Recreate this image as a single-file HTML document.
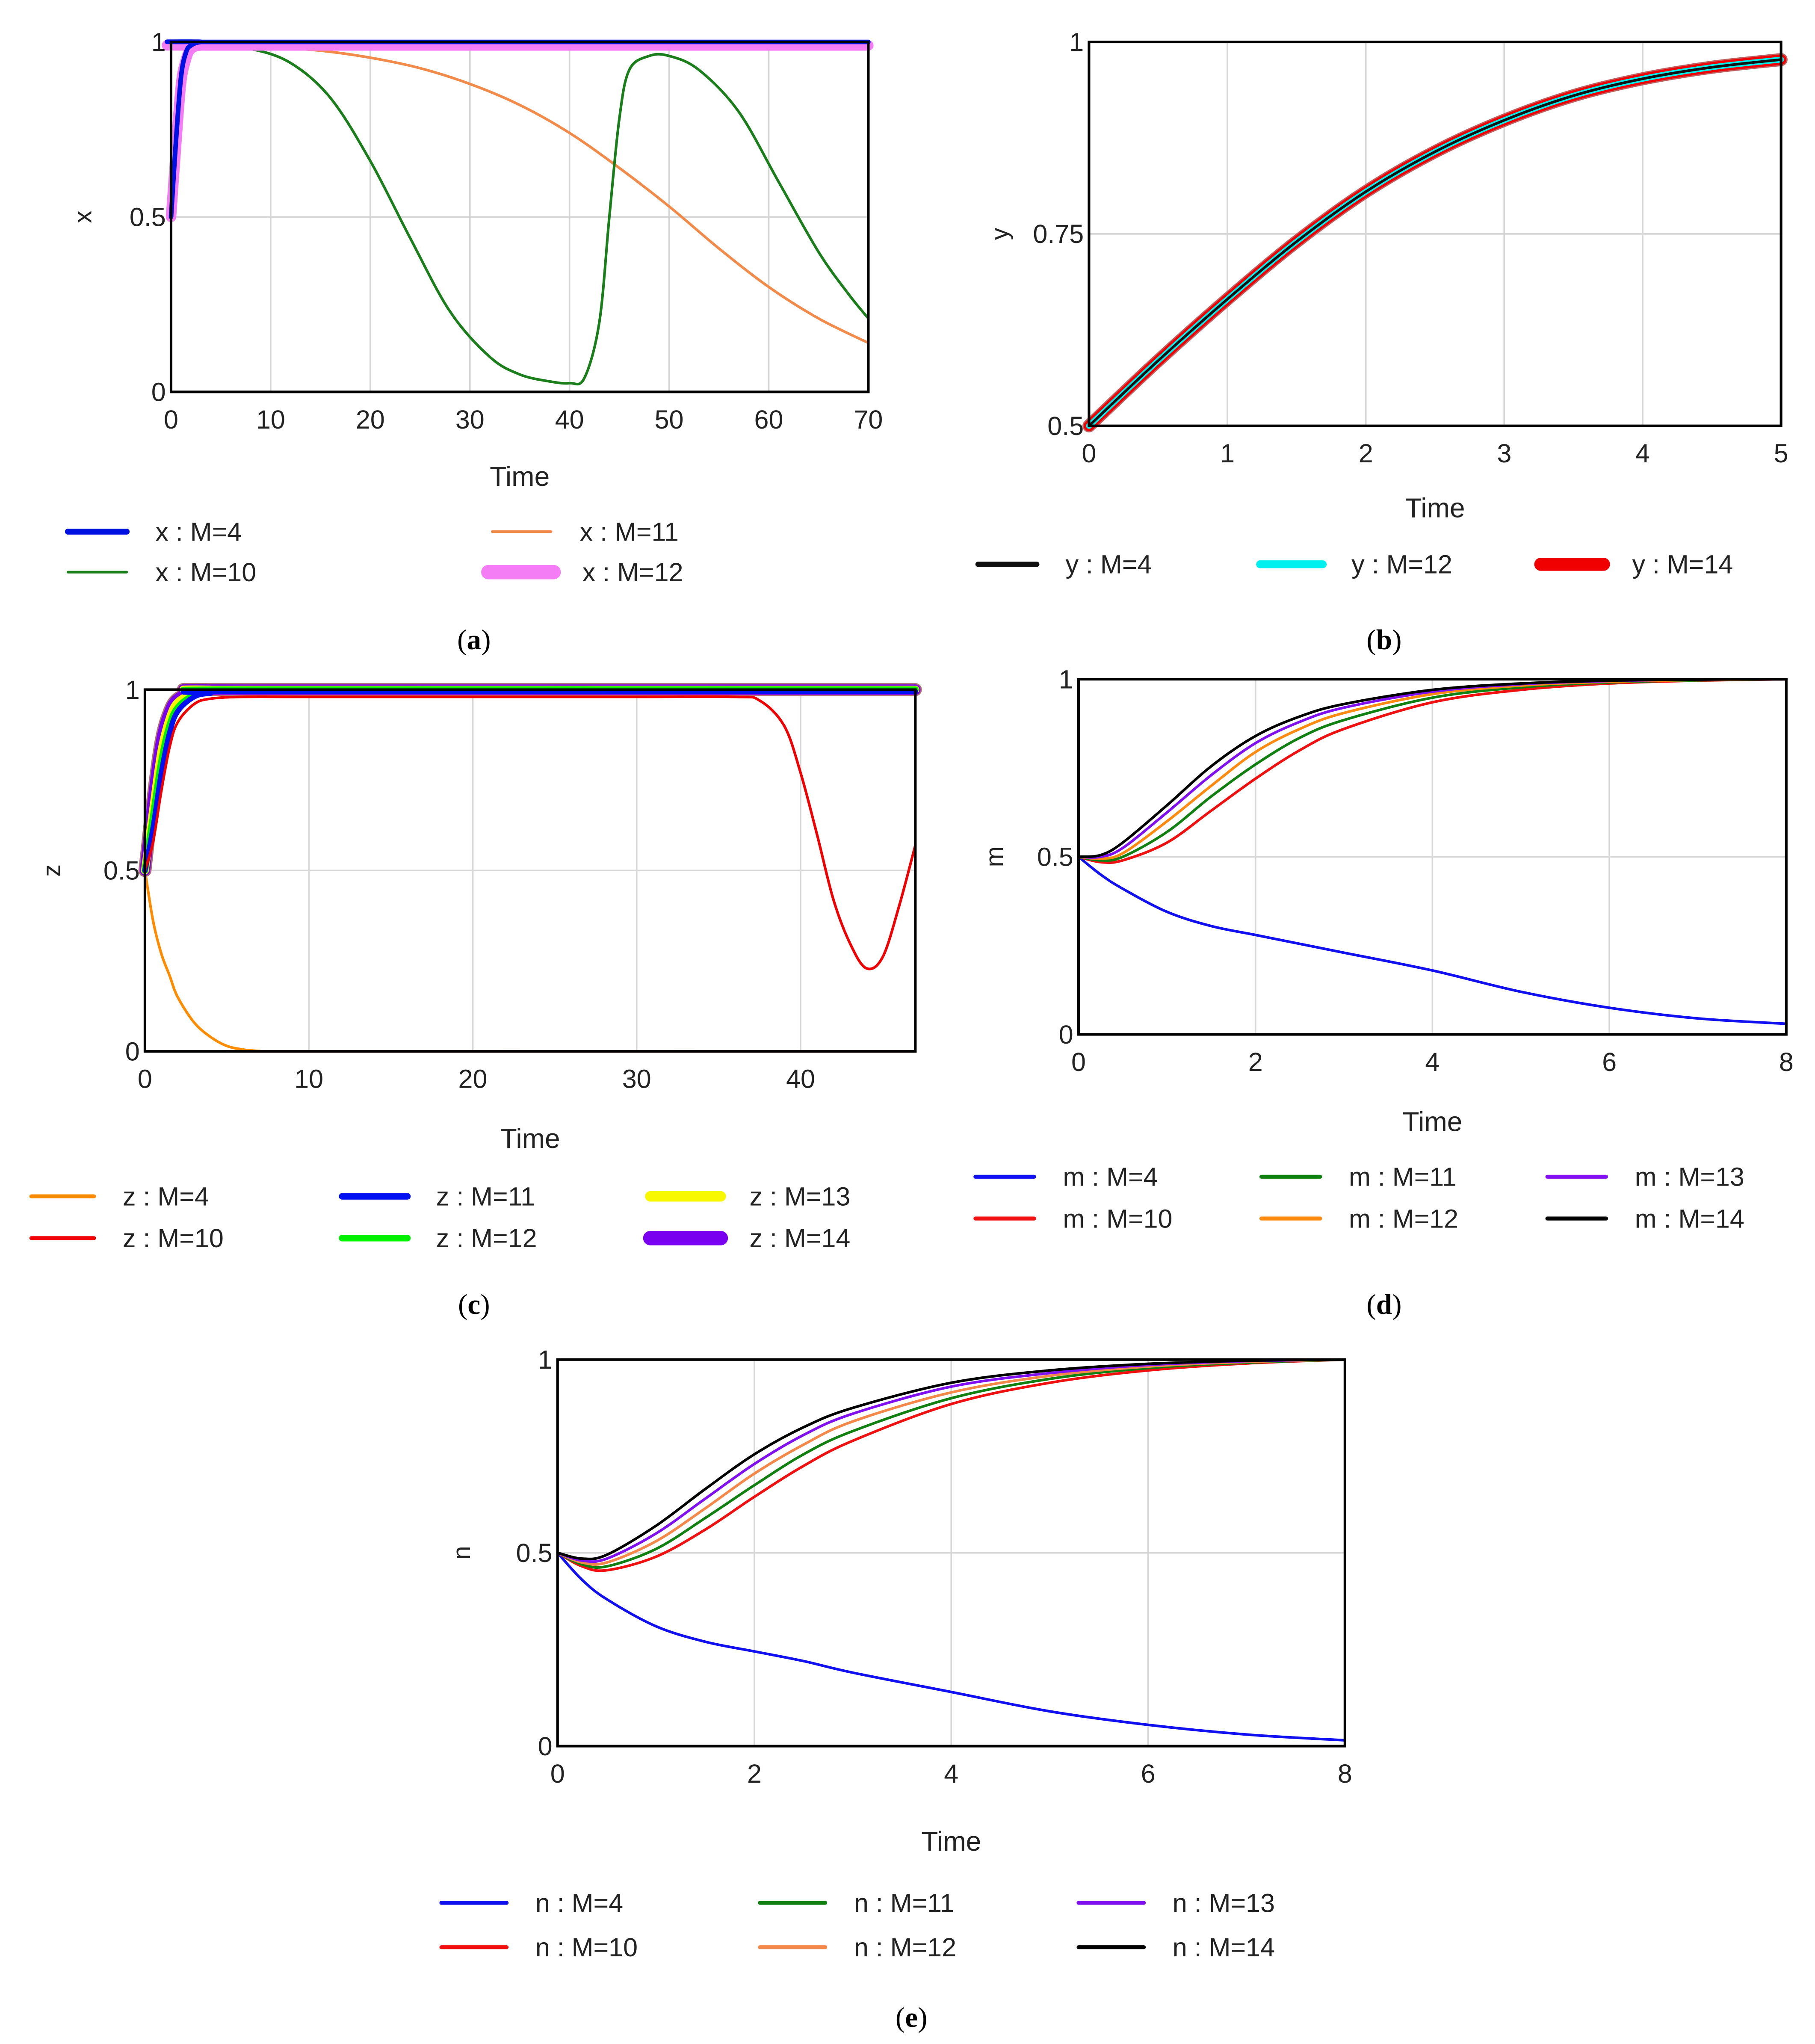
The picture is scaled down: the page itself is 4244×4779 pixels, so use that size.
<!DOCTYPE html>
<html><head><meta charset="utf-8">
<style>
html,body{margin:0;padding:0;background:#fff;}
svg{display:block;}
text{font-family:"Liberation Sans",sans-serif;fill:#222;}
.cap{font-family:"Liberation Serif",serif;font-size:22px;fill:#000;}
</style></head>
<body>
<svg id="fig" width="4244" height="4779" viewBox="0 0 1390 1565" xmlns="http://www.w3.org/2000/svg">
<text class="cap" x="363" y="497" text-anchor="middle">(<tspan font-weight="bold">a</tspan>)</text>
<text class="cap" x="1060" y="497" text-anchor="middle">(<tspan font-weight="bold">b</tspan>)</text>
<text class="cap" x="363" y="1006" text-anchor="middle">(<tspan font-weight="bold">c</tspan>)</text>
<text class="cap" x="1060" y="1006" text-anchor="middle">(<tspan font-weight="bold">d</tspan>)</text>
<text class="cap" x="698" y="1552" text-anchor="middle">(<tspan font-weight="bold">e</tspan>)</text>
</svg>
<script>
// ---- Panel (a) data: x ----
const aX_M4_t = [0,0.5,1,1.5,2,3,5,70];
const aX_M4_v = [0.5,0.72,0.9,0.97,0.99,1,1,1];
const aX_M12_t = [0,0.5,1,1.5,2,3,5,70];
const aX_M12_v = [0.5,0.7,0.88,0.95,0.98,0.99,0.99,0.99];
const aX_M10_t = [0,1,2,4,8,12,16,20,24,28,32,35,38,40,41.5,43,44,45,46,48,50,53,57,61,65,68,70];
const aX_M10_v = [0.5,0.85,0.97,0.99,0.98,0.94,0.84,0.66,0.44,0.23,0.1,0.05,0.03,0.025,0.04,0.2,0.5,0.78,0.92,0.96,0.96,0.92,0.8,0.6,0.4,0.28,0.21];
const aX_M11_t = [0,1,2,5,10,15,20,25,30,35,40,45,50,55,60,65,70];
const aX_M11_v = [0.5,0.85,0.97,0.99,0.985,0.975,0.955,0.925,0.88,0.82,0.74,0.64,0.53,0.41,0.3,0.21,0.14];
// ---- Panel (b) data: y ----
const bT = [0,0.5,1,1.5,2,2.5,3,3.5,4,4.5,5];
const bY_M4 = [0.5,0.585,0.665,0.74,0.805,0.857,0.898,0.93,0.952,0.967,0.977];
const bY_M12 = [0.5,0.585,0.665,0.74,0.805,0.857,0.898,0.93,0.952,0.967,0.977];
const bY_M14 = [0.5,0.585,0.665,0.74,0.805,0.857,0.898,0.93,0.952,0.967,0.977];
// ---- Panel (c) data: z ----
const cZ_M4_t = [0,0.5,1,1.5,2,3,4,5,6,7,8,47];
const cZ_M4_v = [0.5,0.36,0.27,0.21,0.15,0.08,0.04,0.015,0.005,0.001,0,0];
const cZ_M10_t = [0,0.5,1,1.5,2,3,4,6,10,20,30,36,37.5,39,40,41,42,43,44,45,46,47];
const cZ_M10_v = [0.5,0.58,0.72,0.84,0.91,0.96,0.975,0.98,0.98,0.98,0.98,0.98,0.97,0.9,0.77,0.6,0.42,0.3,0.23,0.26,0.4,0.57];
const cZ_M11_t = [0,0.5,1,1.5,2,3,4,6,47];
const cZ_M11_v = [0.5,0.62,0.77,0.88,0.94,0.98,0.99,0.995,0.995];
const cZ_M12_t = [0,0.5,1,1.5,2,3,4,6,47];
const cZ_M12_v = [0.5,0.65,0.8,0.9,0.95,0.985,0.995,1,1];
const cZ_M13_t = [0,0.5,1,1.5,2,3,4,6,47];
const cZ_M13_v = [0.5,0.67,0.83,0.92,0.965,0.99,1,1,1];
const cZ_M14_t = [0,0.5,1,1.5,2,3,4,6,47];
const cZ_M14_v = [0.5,0.7,0.86,0.94,0.975,0.995,1,1,1];
// ---- Panel (d) data: m ----
const dT = [0,0.25,0.5,1,1.5,2,2.5,3,4,5,6,7,8];
const dM_M4 = [0.5,0.45,0.41,0.345,0.305,0.28,0.255,0.23,0.18,0.12,0.075,0.045,0.03];
const dM_M10 = [0.5,0.485,0.49,0.54,0.63,0.72,0.8,0.86,0.935,0.97,0.988,0.996,1];
const dM_M11 = [0.5,0.49,0.5,0.57,0.67,0.76,0.835,0.885,0.948,0.977,0.991,0.997,1];
const dM_M12 = [0.5,0.495,0.51,0.6,0.7,0.795,0.86,0.905,0.958,0.982,0.993,0.998,1];
const dM_M13 = [0.5,0.5,0.525,0.625,0.73,0.82,0.88,0.92,0.965,0.986,0.995,0.999,1];
const dM_M14 = [0.5,0.505,0.54,0.645,0.755,0.84,0.895,0.93,0.97,0.988,0.996,0.999,1];
// ---- Panel (e) data: n ----
const eT = [0,0.25,0.5,1,1.5,2,2.5,3,4,5,6,7,8];
const eN_M4 = [0.5,0.43,0.38,0.31,0.27,0.245,0.22,0.19,0.14,0.09,0.055,0.03,0.015];
const eN_M10 = [0.5,0.465,0.455,0.49,0.56,0.645,0.725,0.79,0.885,0.94,0.972,0.99,1];
const eN_M11 = [0.5,0.47,0.465,0.51,0.59,0.675,0.755,0.815,0.9,0.95,0.978,0.992,1];
const eN_M12 = [0.5,0.475,0.475,0.53,0.615,0.705,0.78,0.84,0.915,0.958,0.982,0.994,1];
const eN_M13 = [0.5,0.48,0.485,0.55,0.64,0.73,0.805,0.86,0.93,0.965,0.986,0.996,1];
const eN_M14 = [0.5,0.485,0.495,0.57,0.665,0.755,0.825,0.875,0.94,0.972,0.989,0.997,1];
// tick labels
const aXTicks = [0,10,20,30,40,50,60,70];
const aYTicks = [0,0.5,1];
const bXTicks = [0,1,2,3,4,5];
const bYTicks = [0.5,0.75,1];
const cXTicks = [0,10,20,30,40];
const cYTicks = [0,0.5,1];
const dXTicks = [0,2,4,6,8];
const dYTicks = [0,0.5,1];
const eXTicks = [0,2,4,6,8];
const eYTicks = [0,0.5,1];

const NS = "http://www.w3.org/2000/svg";
const svg = document.getElementById('fig');
function mk(tag, attrs, parent){
  const e = document.createElementNS(NS, tag);
  for (const k in attrs) e.setAttribute(k, attrs[k]);
  (parent||svg).appendChild(e);
  return e;
}
function fmt(v){ return String(v); }
function curve(pts){
  let d = 'M'+pts[0][0]+','+pts[0][1];
  for (let i=0;i<pts.length-1;i++){
    const p0=pts[i-1]||pts[i], p1=pts[i], p2=pts[i+1], p3=pts[i+2]||p2;
    const c1=[p1[0]+(p2[0]-p0[0])/6, p1[1]+(p2[1]-p0[1])/6];
    const c2=[p2[0]-(p3[0]-p1[0])/6, p2[1]-(p3[1]-p1[1])/6];
    d+=' C'+c1[0]+','+c1[1]+' '+c2[0]+','+c2[1]+' '+p2[0]+','+p2[1];
  }
  return d;
}
function chart(c){
  const g = mk('g', {});
  
  
  const sx = t => c.x0 + (t - c.xmin)/(c.xmax - c.xmin)*(c.x1 - c.x0);
  const sy = v => c.y1 - (v - c.ymin)/(c.ymax - c.ymin)*(c.y1 - c.y0);
  // grid
  c.xt.forEach(t=>{
    if (t===c.xmin || t===c.xmax) return;
    const l = mk('line',{x1:sx(t),x2:sx(t),y1:c.y0,y2:c.y1,stroke:'#d6d6d6','stroke-width':1.2},g);
    
    
  });
  c.yt.forEach(v=>{
    if (v===c.ymin || v===c.ymax) return;
    const l = mk('line',{x1:c.x0,x2:c.x1,y1:sy(v),y2:sy(v),stroke:'#d6d6d6','stroke-width':1.2},g);
    
    
  });
  // series
  c.series.forEach(s=>{
    const pts = s.t.map((t,i)=>[sx(t), sy(s.v[i])]);
    if (s.halo){
      const h = mk('path',{d:curve(pts),fill:'none',stroke:s.halo,'stroke-width':s.w+2,'stroke-linecap':'round','stroke-linejoin':'round'},g);
      
      
    }
    const p = mk('path',{d:curve(pts),fill:'none',stroke:s.color,'stroke-width':s.w,'stroke-linecap':'round','stroke-linejoin':'round'},g);
    
    
  });
  // frame
  const f = mk('rect',{x:c.x0,y:c.y0,width:c.x1-c.x0,height:c.y1-c.y0,fill:'none',stroke:'#000','stroke-width':2},g);
  
  
  // ticks
  c.xt.forEach(t=>{
    const tx = mk('text',{x:sx(t),y:c.y1+28,'text-anchor':'middle','font-size':20},g);
    tx.textContent = fmt(t);
    
    
  });
  c.yt.forEach(v=>{
    const tx = mk('text',{x:c.x0-4,y:sy(v)+7,'text-anchor':'end','font-size':20},g);
    tx.textContent = fmt(v);
    
    
  });
  const yl = mk('text',{x:0,y:0,'text-anchor':'middle','font-size':19,transform:'translate('+c.ylx+','+((c.y0+c.y1)/2)+') rotate(-90)'},g);
  yl.textContent = c.ylabel;
  
  
  const xl = mk('text',{x:(c.x0+c.x1)/2,y:c.y1+c.xlDy,'text-anchor':'middle','font-size':21},g);
  xl.textContent = 'Time';
  
  
  // legend
  c.legend.forEach(L=>{
    const s = c.series.find(q=>q.id===L.id);
    const ln = mk('line',{x1:L.x,x2:L.x+L.len,y1:L.y,y2:L.y,stroke:s.color,'stroke-width':s.lw||s.w,'stroke-linecap':'round'},g);
    
    
    const tx = mk('text',{x:L.x+L.len+22,y:L.y+7,'font-size':20},g);
    tx.textContent = L.label;
    
    
  });
}

chart({name:'chart-a',x0:131,x1:665,y0:32,y1:300,xmin:0,xmax:70,ymin:0,ymax:1,xt:aXTicks,yt:aYTicks,ylabel:'x',ylx:70,xlDy:72,
  series:[
    {id:'x-m11',t:aX_M11_t,v:aX_M11_v,color:'#f28a4a',w:2},
    {id:'x-m10',t:aX_M10_t,v:aX_M10_v,color:'#1a7f1a',w:2},
    {id:'x-m12',t:aX_M12_t,v:aX_M12_v,color:'#f47cf4',w:8,lw:11},
    {id:'x-m4',t:aX_M4_t,v:aX_M4_v,color:'#0010e0',w:3.5,lw:4.5}
  ],
  legend:[
    {id:'x-m4',label:'x : M=4',x:52,y:407,len:45},
    {id:'x-m10',label:'x : M=10',x:52,y:438,len:45},
    {id:'x-m11',label:'x : M=11',x:377,y:407,len:45},
    {id:'x-m12',label:'x : M=12',x:374,y:438,len:50}
  ]});

chart({name:'chart-b',x0:834,x1:1364,y0:32,y1:326,xmin:0,xmax:5,ymin:0.5,ymax:1,xt:bXTicks,yt:bYTicks,ylabel:'y',ylx:772,xlDy:70,
  series:[
    {id:'y-m14',t:bT,v:bY_M14,color:'#f00000',w:8,halo:'#c06060',lw:10},
    {id:'y-m12',t:bT,v:bY_M12,color:'#00f0f0',w:4.5,lw:6},
    {id:'y-m4',t:bT,v:bY_M4,color:'#111111',w:2,lw:4}
  ],
  legend:[
    {id:'y-m4',label:'y : M=4',x:749,y:432,len:45},
    {id:'y-m12',label:'y : M=12',x:965,y:432,len:48},
    {id:'y-m14',label:'y : M=14',x:1180,y:432,len:48}
  ]});

chart({name:'chart-c',x0:111,x1:701,y0:528,y1:805,xmin:0,xmax:47,ymin:0,ymax:1,xt:cXTicks,yt:cYTicks,ylabel:'z',ylx:46,xlDy:74,
  series:[
    {id:'z-m4',t:cZ_M4_t,v:cZ_M4_v,color:'#ff8c00',w:2,lw:3},
    {id:'z-m14',t:cZ_M14_t,v:cZ_M14_v,color:'#7a00f0',w:8,halo:'#b07070',lw:11},
    {id:'z-m13',t:cZ_M13_t,v:cZ_M13_v,color:'#f8f800',w:6,lw:8},
    {id:'z-m12',t:cZ_M12_t,v:cZ_M12_v,color:'#00f000',w:5,lw:5},
    {id:'z-m11',t:cZ_M11_t,v:cZ_M11_v,color:'#0010f0',w:4,lw:5},
    {id:'z-m10',t:cZ_M10_t,v:cZ_M10_v,color:'#f00000',w:2,lw:3}
  ],
  legend:[
    {id:'z-m4',label:'z : M=4',x:24,y:916,len:48},
    {id:'z-m10',label:'z : M=10',x:24,y:948,len:48},
    {id:'z-m11',label:'z : M=11',x:262,y:916,len:50},
    {id:'z-m12',label:'z : M=12',x:262,y:948,len:50},
    {id:'z-m13',label:'z : M=13',x:498,y:916,len:54},
    {id:'z-m14',label:'z : M=14',x:498,y:948,len:54}
  ]});

chart({name:'chart-d',x0:826,x1:1368,y0:520,y1:792,xmin:0,xmax:8,ymin:0,ymax:1,xt:dXTicks,yt:dYTicks,ylabel:'m',ylx:768,xlDy:74,
  series:[
    {id:'m-m4',t:dT,v:dM_M4,color:'#1010f0',w:2,lw:3},
    {id:'m-m10',t:dT,v:dM_M10,color:'#f01010',w:2,lw:3},
    {id:'m-m11',t:dT,v:dM_M11,color:'#108010',w:2,lw:3},
    {id:'m-m12',t:dT,v:dM_M12,color:'#ff8a10',w:2,lw:3},
    {id:'m-m13',t:dT,v:dM_M13,color:'#8010f0',w:2,lw:3},
    {id:'m-m14',t:dT,v:dM_M14,color:'#000000',w:2,lw:3}
  ],
  legend:[
    {id:'m-m4',label:'m : M=4',x:747,y:901,len:45},
    {id:'m-m10',label:'m : M=10',x:747,y:933,len:45},
    {id:'m-m11',label:'m : M=11',x:966,y:901,len:45},
    {id:'m-m12',label:'m : M=12',x:966,y:933,len:45},
    {id:'m-m13',label:'m : M=13',x:1185,y:901,len:45},
    {id:'m-m14',label:'m : M=14',x:1185,y:933,len:45}
  ]});

chart({name:'chart-e',x0:427,x1:1030,y0:1041,y1:1337,xmin:0,xmax:8,ymin:0,ymax:1,xt:eXTicks,yt:eYTicks,ylabel:'n',ylx:360,xlDy:80,
  series:[
    {id:'n-m4',t:eT,v:eN_M4,color:'#1010f0',w:2,lw:3},
    {id:'n-m10',t:eT,v:eN_M10,color:'#f01010',w:2,lw:3},
    {id:'n-m11',t:eT,v:eN_M11,color:'#108010',w:2,lw:3},
    {id:'n-m12',t:eT,v:eN_M12,color:'#f48848',w:2,lw:3},
    {id:'n-m13',t:eT,v:eN_M13,color:'#8010f0',w:2,lw:3},
    {id:'n-m14',t:eT,v:eN_M14,color:'#000000',w:2,lw:3}
  ],
  legend:[
    {id:'n-m4',label:'n : M=4',x:338,y:1457,len:50},
    {id:'n-m10',label:'n : M=10',x:338,y:1491,len:50},
    {id:'n-m11',label:'n : M=11',x:582,y:1457,len:50},
    {id:'n-m12',label:'n : M=12',x:582,y:1491,len:50},
    {id:'n-m13',label:'n : M=13',x:826,y:1457,len:50},
    {id:'n-m14',label:'n : M=14',x:826,y:1491,len:50}
  ]});
</script>
</body></html>
